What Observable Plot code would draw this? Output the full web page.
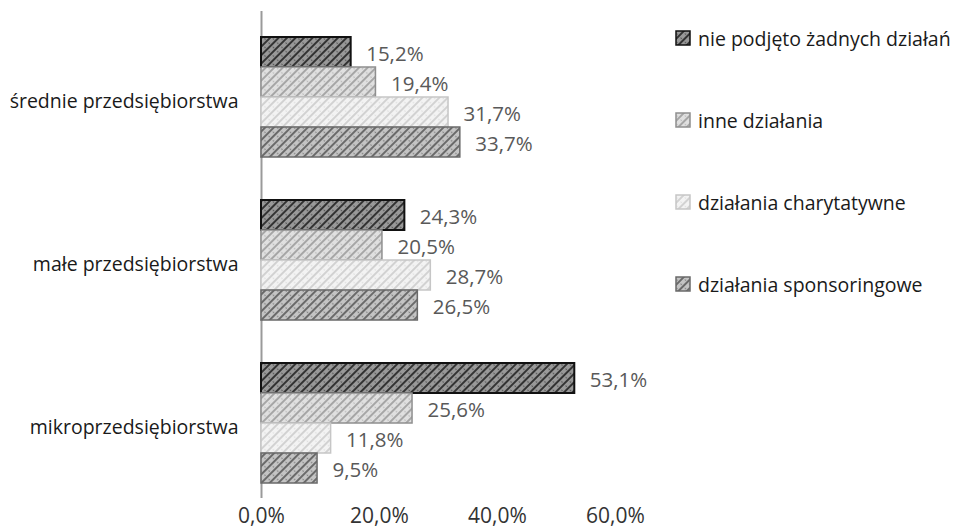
<!DOCTYPE html>
<html>
<head>
<meta charset="utf-8">
<script src="https://cdn.jsdelivr.net/npm/d3@7"></script>
<script src="https://cdn.jsdelivr.net/npm/@observablehq/plot@0.6"></script>
<style>
  html, body { margin: 0; padding: 0; background: #fff; }
  #wrap { position: relative; width: 956px; height: 530px; font-family: "Open Sans", sans-serif; }
  #legend { position: absolute; left: 675px; top: 27px; }
  .item { display: flex; align-items: center; height: 22px; margin-bottom: 60px; font-size: 19.5px; color: #1a1a1a; white-space: nowrap; }
  .item svg { margin-right: 7px; }
</style>
</head>
<body>
<div id="wrap"><div id="legend"></div></div>
<script>
const categories = ["średnie przedsiębiorstwa", "małe przedsiębiorstwa", "mikroprzedsiębiorstwa"];
const series = ["nie podjęto żadnych działań", "inne działania", "działania charytatywne", "działania sponsoringowe"];
const valuesNie = [15.2, 24.3, 53.1];
const valuesInne = [19.4, 20.5, 25.6];
const valuesChar = [31.7, 28.7, 11.8];
const valuesSpon = [33.7, 26.5, 9.5];
const xTicks = [0, 20, 40, 60];

const seriesValues = [valuesNie, valuesInne, valuesChar, valuesSpon];
const data = [];
categories.forEach((c, i) => series.forEach((s, j) => data.push({category: c, series: s, value: seriesValues[j][i]})));

const styles = [
  {bg: "#999999", line: "#333333", dot: "#444", stroke: "#111", sw: 2},
  {bg: "#e0e0e0", line: "#a6a6a6", dot: "#b0b0b0", stroke: "#8f8f8f", sw: 1.5},
  {bg: "#f3f3f3", line: "#d2d2d2", dot: "#dadada", stroke: "#c6c6c6", sw: 1.5},
  {bg: "#c4c4c4", line: "#6a6a6a", dot: "#707070", stroke: "#6a6a6a", sw: 1.5}
];

const fmt = v => v.toFixed(1).replace(".", ",") + "%";

const ruleStyle = {x: () => 0, fy: d => d, stroke: "#9a9a9a", strokeWidth: 2};
const marks = [
  Plot.ruleX([categories[0]], {...ruleStyle, insetTop: -25}),
  Plot.ruleX([categories[1]], {...ruleStyle, insetTop: -43}),
  Plot.ruleX([categories[2]], {...ruleStyle, insetTop: -43, insetBottom: -14})
];
series.forEach((s, j) => {
  marks.push(Plot.barX(data.filter(d => d.series === s), {
    x: "value", y: "series", fy: "category",
    fill: `url(#pat${j})`, stroke: styles[j].stroke, strokeWidth: styles[j].sw
  }));
});
marks.push(Plot.text(data, {
  x: "value", y: "series", fy: "category", text: d => fmt(d.value),
  textAnchor: "start", dx: 15, dy: 2, fill: "#595959", fontSize: 20.5
}));

const plot = Plot.plot({
  width: 956,
  height: 530,
  marginLeft: 261,
  marginRight: 341,
  marginTop: 35,
  marginBottom: 45,
  style: {fontFamily: "Open Sans, sans-serif", background: "transparent"},
  x: {domain: [0, 60], ticks: xTicks, tickFormat: fmt, tickSize: 0, label: null},
  y: {domain: series, padding: 0, axis: null},
  fy: {domain: categories, paddingInner: 0.25, paddingOuter: 0, label: null},
  marks: [
    ...marks,
    Plot.axisX({ticks: xTicks, tickFormat: fmt, tickSize: 0, tickPadding: 24, fontSize: 21, fill: "#333", label: null}),
    Plot.axisFy({anchor: "left", tickSize: 0, tickPadding: 23, fontSize: 19.5, fill: "#1a1a1a", dy: 4, label: null})
  ]
});

function addPatterns(svg) {
  const defs = d3.select(svg).insert("defs", ":first-child");
  styles.forEach((st, j) => {
    const p = defs.append("pattern").attr("id", `pat${j}`).attr("patternUnits", "userSpaceOnUse")
      .attr("width", 6).attr("height", 6).attr("patternTransform", "rotate(45)");
    p.append("rect").attr("width", 6).attr("height", 6).attr("fill", st.bg);
    p.append("rect").attr("x", 0).attr("y", 0).attr("width", 2).attr("height", 6).attr("fill", st.line);
    p.append("circle").attr("cx", 4.2).attr("cy", 1.5).attr("r", 0.7).attr("fill", st.dot);
  });
}
addPatterns(plot);
document.getElementById("wrap").prepend(plot);
plot.style.position = "absolute";
plot.style.left = "0";
plot.style.top = "0";

const legend = document.getElementById("legend");
series.forEach((s, j) => {
  const item = document.createElement("div");
  item.className = "item";
  const sw = d3.create("svg").attr("width", 16).attr("height", 16);
  addPatterns(sw.node());
  sw.append("rect").attr("x", 1).attr("y", 1).attr("width", 14).attr("height", 14)
    .attr("fill", `url(#pat${j})`).attr("stroke", styles[j].stroke).attr("stroke-width", 1.5);
  item.appendChild(sw.node());
  const t = document.createElement("span");
  t.textContent = s;
  item.appendChild(t);
  legend.appendChild(item);
});
</script>
</body>
</html>
